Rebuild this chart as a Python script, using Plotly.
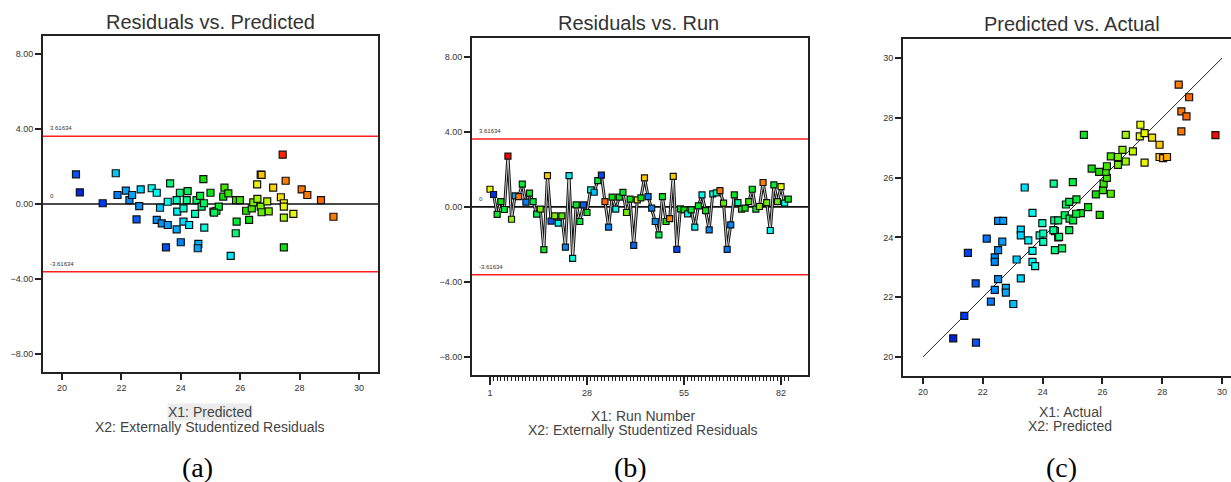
import plotly.graph_objects as go

W, H = 1231, 482

# ---------------- data ----------------
# (a) Residuals vs. Predicted
pred_a = [20.47, 20.60, 21.37, 21.81, 21.87, 22.15, 22.27, 22.36, 22.51, 22.60, 22.65, 23.02, 23.19, 23.19,
          23.30, 23.36, 23.50, 23.56, 23.56, 23.64, 23.86, 23.88, 23.97, 23.86, 24.00, 24.09, 24.09, 24.20,
          24.23, 24.28, 24.48, 24.53, 24.59, 24.57, 24.65, 24.70, 24.76, 24.78, 24.79, 25.00, 25.10, 25.20,
          25.28, 25.43, 25.47, 25.60, 25.12, 25.86, 25.99, 25.88, 25.85, 25.68, 26.20, 26.30, 26.39, 26.44,
          26.58, 26.69, 26.72, 26.91, 26.96, 26.57, 26.69, 26.72, 27.11, 27.37, 27.43, 27.47, 27.47, 27.47,
          27.47, 27.53, 27.79, 28.07, 28.26, 28.72, 29.14]
resid_a = [1.58, 0.62, 0.04, 1.64, 0.48, 0.71, 0.21, 0.48, -0.82, -0.11, 0.78, 0.84, 0.60, -0.85,
           -0.20, -1.03, -2.31, -1.12, 0.12, 1.10, -1.35, -0.41, 0.60, 0.21, -2.04, -0.94, -0.23, 0.21,
           0.69, -1.12, -0.53, 0.21, -2.13, -2.36, 0.43, -0.14, 1.33, 0.04, -1.26, 0.60, -0.41, -0.36,
           -0.14, 0.39, 0.87, 0.57, -0.46, 0.21, 0.21, -0.94, -1.56, -2.77, -0.36, -0.85, -0.23, 0.09,
           0.27, -0.14, -0.44, 0.14, -0.39, 1.05, 1.57, 1.55, 0.87, 0.36, 2.63, 0.04, -0.14, -0.73,
           -2.31, 1.24, -0.53, 0.78, 0.48, 0.21, -0.68]

# (b) Residuals vs. Run
run_b = list(range(1, 85))
resid_b = [0.94, 0.66, -0.40, 0.28, -0.14, 2.70, -0.66, 0.59, 0.55, 1.21, 0.25, 0.73, 0.28, -0.39,
           -0.12, -2.28, 1.67, -0.76, -0.48, -0.87, -0.48, -2.15, 1.67, -2.74, 0.11, -0.78, 0.11, -0.30,
           0.91, 0.78, 1.40, 1.69, 0.28, -1.08, 0.52, -0.12, 0.52, 0.77, -0.30, 0.41, -2.05, 0.37,
           0.48, 1.55, 0.55, -0.07, -0.78, -1.49, 0.55, -0.78, -0.63, 1.63, -2.26, -0.11, -0.16, -0.37,
           -0.16, -1.08, 0.05, 0.64, -0.20, -1.23, 0.69, 0.75, 0.87, 0.20, -2.26, -0.96, 0.64, 0.23,
           -0.12, -0.07, 0.28, 0.94, -0.12, 0.02, 1.30, 0.23, -1.26, 1.17, 0.28, 1.08, 0.20, 0.41]
actual_b = [27.4, 21.2, 25.3, 25.6, 25.2, 29.8, 26.7, 22.8, 28.6, 25.2, 22.3, 25.5, 25.0, 24.8,
            26.6, 25.4, 27.9, 21.8, 26.6, 23.6, 26.3, 22.4, 23.5, 23.8, 25.3, 25.1, 21.9, 25.4,
            23.8, 23.0, 25.1, 21.6, 28.9, 22.4, 25.6, 23.6, 25.5, 25.3, 26.5, 25.6, 22.0, 27.6,
            25.7, 27.9, 22.3, 22.3, 22.4, 24.9, 25.4, 25.6, 28.5, 27.9, 21.6, 25.5, 25.8, 23.7,
            25.2, 23.6, 25.3, 23.7, 25.5, 22.4, 23.8, 24.0, 28.6, 26.4, 22.2, 22.4, 25.4, 24.2,
            25.3, 25.6, 26.2, 25.5, 25.4, 26.6, 28.6, 26.5, 23.6, 25.2, 26.4, 27.3, 23.7, 25.6]

# (c) Predicted vs. Actual
actual_c = [23.40, 24.37, 22.51, 22.68, 22.13, 22.65, 21.50, 22.51, 22.40, 22.40, 23.13, 23.27, 23.27, 23.52,
            23.66, 23.66, 23.66, 23.75, 23.99, 23.90, 24.02, 24.02, 24.39, 24.41, 24.52, 24.41, 21.76, 22.51,
            22.40, 22.77, 22.77, 22.27, 23.02, 23.27, 21.38, 21.01, 21.77, 25.01, 25.38, 24.52, 24.78, 24.89,
            25.13, 24.74, 24.90, 25.02, 25.28, 25.52, 25.91, 25.78, 26.02, 26.28, 26.04, 26.15, 26.11, 26.15,
            25.89, 25.64, 26.28, 26.52, 26.52, 26.67, 26.78, 27.02, 26.78, 27.27, 27.25, 27.41, 27.66, 27.91,
            27.41, 27.91, 28.03, 28.16, 28.55, 28.90, 28.64, 28.81, 28.64, 29.78, 24.89, 24.55, 24.36, 25.12,
            24.65]
pred_c = [25.67, 25.80, 24.55, 24.55, 23.96, 23.86, 23.48, 23.57, 23.33, 23.18, 23.26, 24.26, 24.07, 23.90,
          24.82, 23.55, 23.18, 23.04, 24.48, 24.07, 24.13, 23.85, 24.57, 24.21, 24.00, 23.57, 22.46, 22.60,
          22.24, 22.31, 22.15, 21.85, 21.77, 22.63, 21.37, 20.62, 20.48, 25.85, 27.43, 24.57, 25.10, 25.19,
          25.27, 24.74, 24.63, 24.57, 24.81, 25.01, 24.75, 25.44, 25.58, 25.46, 25.80, 25.99, 26.19, 26.38,
          26.19, 26.30, 26.71, 26.69, 26.43, 26.93, 26.54, 26.88, 27.43, 27.77, 27.38, 27.49, 27.34, 27.10,
          26.50, 26.69, 26.65, 26.69, 29.11, 28.69, 28.22, 28.05, 27.55, 27.42, 24.24, 24.02, 24.24, 24.79,
          23.63]

limit = 3.61634
y_ticks = [-8, -4, 0, 4, 8]
run_ticks = [1, 28, 55, 82]
pv_ticks = [20, 22, 24, 26, 28, 30]

# colour value for panel (a): approximate actual response
color_a = [p + 0.8 * r for p, r in zip(pred_a, resid_a)]

cscale = [[0.0, '#0000c0'], [0.1075, '#0040ff'], [0.215, '#0090ff'], [0.30, '#00d8ff'],
          [0.344, '#00ffee'], [0.41, '#00ff90'], [0.484, '#00f040'], [0.57, '#10e000'],
          [0.656, '#80f000'], [0.73, '#e6ff00'], [0.796, '#ffc800'], [0.86, '#ff8000'],
          [0.935, '#ff5000'], [1.0, '#ff0000']]
CMIN, CMAX = 20.5, 29.8


def mk(colors, size):
    return dict(symbol='square', size=size, color=colors, colorscale=cscale, cmin=CMIN, cmax=CMAX,
                line=dict(color='#111111', width=1.2))


def px_x(a, b):
    return [a / W, b / W]


def px_y(top, bottom):
    return [1 - bottom / H, 1 - top / H]


fig = go.Figure()

# panel (a)
fig.add_trace(go.Scatter(x=pred_a, y=resid_a, mode='markers', marker=mk(color_a, 7),
                         xaxis='x', yaxis='y', showlegend=False))
# panel (b)
fig.add_trace(go.Scatter(x=run_b, y=resid_b, mode='lines', line=dict(color='#111111', width=3),
                         xaxis='x2', yaxis='y2', showlegend=False))
fig.add_trace(go.Scatter(x=run_b, y=resid_b, mode='lines', line=dict(color='#ffffff', width=0.8),
                         xaxis='x2', yaxis='y2', showlegend=False))
fig.add_trace(go.Scatter(x=run_b, y=resid_b, mode='markers', marker=mk(actual_b, 6),
                         xaxis='x2', yaxis='y2', showlegend=False))
# panel (c)
fig.add_trace(go.Scatter(x=[20, 30], y=[20, 30], mode='lines', line=dict(color='#222222', width=1),
                         xaxis='x3', yaxis='y3', showlegend=False))
fig.add_trace(go.Scatter(x=actual_c, y=pred_c, mode='markers', marker=mk(actual_c, 7),
                         xaxis='x3', yaxis='y3', showlegend=False))

tickfont = dict(family='Liberation Sans, Arial', size=9, color='#333333')
axis_common = dict(showline=True, linecolor='#222222', linewidth=2, ticks='outside', tickcolor='#222222',
                   tickwidth=1.5, ticklen=6, showgrid=False, zeroline=False, tickfont=tickfont)

fig.update_layout(
    width=W, height=H, margin=dict(l=0, r=0, t=0, b=0), plot_bgcolor='white', paper_bgcolor='white',
    xaxis=dict(axis_common, domain=px_x(43, 378), range=[19.36, 30.64], tickmode='array',
               tickvals=pv_ticks, mirror=True, anchor='y'),
    yaxis=dict(axis_common, domain=px_y(36, 372), range=[-8.96, 8.96], tickmode='array',
               tickvals=y_ticks, tickformat='.2f', mirror=True, anchor='x'),
    xaxis2=dict(axis_common, domain=px_x(472, 808), range=[-4.0, 89.5], tickmode='array',
                tickvals=run_ticks, mirror=True, anchor='y2', ticklen=8,
                minor=dict(tickmode='array', tickvals=run_b, ticklen=4, ticks='outside',
                           tickcolor='#222222', tickwidth=1)),
    yaxis2=dict(axis_common, domain=px_y(38, 375), range=[-8.96, 9.0], tickmode='array',
                tickvals=y_ticks, tickformat='.2f', mirror=True, anchor='x2'),
    xaxis3=dict(axis_common, domain=px_x(903, 1231), range=[19.33, 30.3], tickmode='array',
                tickvals=pv_ticks, mirror=True, anchor='y3'),
    yaxis3=dict(axis_common, domain=px_y(39, 376), range=[19.36, 30.64], tickmode='array',
                tickvals=pv_ticks, mirror=False, anchor='x3'),
)

shapes = []
for xr, yr in (('x', 'y'), ('x2', 'y2')):
    for val, col in ((limit, '#ff2020'), (-limit, '#ff2020'), (0, '#111111')):
        shapes.append(dict(type='line', xref=f'{xr} domain', yref=yr, x0=0, x1=1, y0=val, y1=val,
                           line=dict(color=col, width=1.6), layer='below'))
fig.update_layout(shapes=shapes)

ann = []
small = dict(family='Liberation Sans, Arial', size=6, color='#333333')
for xr, yr in (('x', 'y'), ('x2', 'y2')):
    for val, txt in ((limit, f'{limit:.5f}'), (0, '0'), (-limit, f'{-limit:.5f}')):
        ann.append(dict(xref=f'{xr} domain', yref=yr, x=0.015, y=val, text=txt, showarrow=False,
                        xanchor='left', yanchor='bottom', yshift=3, font=small))

title_font = dict(family='Liberation Sans, Arial', size=20, color='#333333')
lab_font = dict(family='Liberation Sans, Arial', size=14, color='#444444')
cap_font = dict(family='Liberation Serif, Times New Roman', size=28, color='#000000')


def pann(x, y, text, font, **kw):
    d = dict(xref='paper', yref='paper', x=x / W, y=1 - y / H, text=text, showarrow=False,
             xanchor='center', yanchor='middle', font=font)
    d.update(kw)
    ann.append(d)


pann(210, 22, 'Residuals vs. Predicted', title_font)
pann(638, 23, 'Residuals vs. Run', title_font)
pann(1072, 24, 'Predicted vs. Actual', title_font)

pann(210, 412, 'X1: Predicted', lab_font, bgcolor='#ececec', borderpad=0)
pann(210, 427, 'X2: Externally Studentized Residuals', lab_font)
pann(643, 416, 'X1: Run Number', lab_font)
pann(643, 430, 'X2: Externally Studentized Residuals', lab_font)
pann(1070, 412, 'X1: Actual', lab_font)
pann(1070, 426, 'X2: Predicted', lab_font)

pann(197, 467, '(a)', cap_font)
pann(630, 467, '(b)', cap_font)
pann(1061, 467, '(c)', cap_font)

fig.update_layout(annotations=ann)

fig.write_html('out.html')
